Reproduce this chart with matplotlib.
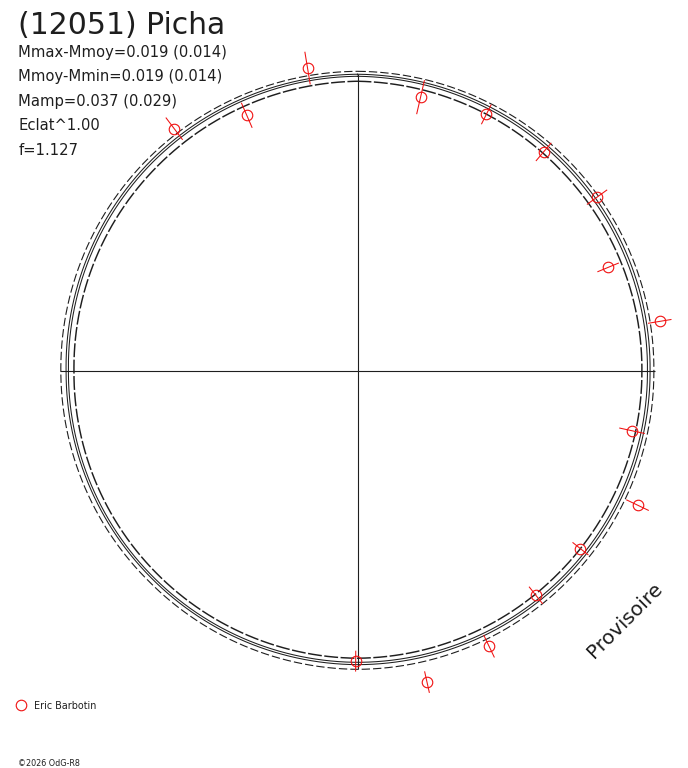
import numpy as np
import matplotlib
matplotlib.use("Agg")
import matplotlib.pyplot as plt
from matplotlib.lines import Line2D

plt.rcParams['font.family'] = ['DejaVu Sans']
plt.rcParams['lines.scale_dashes'] = False

# ---------------- data ----------------
title = "(12051) Picha"
info_lines = ["Mmax-Mmoy=0.019 (0.014)",
              "Mmoy-Mmin=0.019 (0.014)",
              "Mamp=0.037 (0.029)",
              "Eclat^1.00",
              "f=1.127"]
observer = "Eric Barbotin"
credit = "\u00a92026 OdG-R8"
watermark = "Provisoire"

# observations: rotational phase (0..1, clockwise from top), relative flux, error
obs_phase = [0.974, 0.036, 0.074, 0.112, 0.150, 0.1875, 0.224, 0.284,
             0.321, 0.357, 0.393, 0.429, 0.465, 0.501, 0.935, 0.897]
obs_flux = [1.052, 0.963, 0.984, 0.985, 1.014, 0.929, 1.049, 0.962,
            1.063, 0.976, 0.981, 1.044, 1.091, 0.993, 0.955, 1.041]
obs_err = [0.055, 0.058, 0.036, 0.039, 0.041, 0.038, 0.039, 0.043,
           0.041, 0.033, 0.036, 0.041, 0.036, 0.034, 0.045, 0.046]

# fitted curves (relative flux) at phases 0, 1/8, ... 7/8
curve_phase = [0.0, 0.125, 0.25, 0.375, 0.5, 0.625, 0.75, 0.875]
curve_fit_low = [1.010, 1.000, 0.993, 0.995, 0.997, 0.993, 0.990, 1.002]
curve_fit_high = [1.017, 1.009, 1.002, 1.003, 1.005, 1.000, 0.998, 1.010]
curve_env_outer = [1.027, 1.021, 1.015, 1.017, 1.021, 1.014, 1.016, 1.022]
curve_env_inner = [0.993, 0.979, 0.974, 0.976, 0.983, 0.976, 0.971, 0.981]

axis_length = 1.019

# ---------------- figure ----------------
W, H = 688, 768
fig = plt.figure(figsize=(W / 100, H / 100), dpi=100)
fig.patch.set_facecolor('white')

cx, cy = 357.5, 371.2      # centre in pixels (from top-left)
scale = 292.0              # pixels per unit flux
R = 1.2
half = R * scale
ax = fig.add_axes([(cx - half) / W, (H - cy - half) / H, 2 * half / W, 2 * half / H],
                  projection='polar')
ax.set_theta_zero_location('N')
ax.set_theta_direction(-1)
ax.set_ylim(0, R)
ax.set_axis_off()

ink = '#1e1e1e'

# cross
for ang in [0, np.pi / 2, np.pi, 3 * np.pi / 2]:
    ax.plot([ang, ang], [0, axis_length], color=ink, lw=0.8, solid_capstyle='butt')

def closed(vals):
    return np.append(np.asarray(vals, float), vals[0])

theta_c = 2 * np.pi * closed(curve_phase)
theta_c[-1] = 2 * np.pi

styles = [
    (curve_env_outer, dict(lw=0.8, dashes=[6, 2.2])),
    (curve_fit_high, dict(lw=0.75)),
    (curve_fit_low, dict(lw=0.75)),
    (curve_env_inner, dict(lw=1.05, dashes=[10, 1.8])),
]
for vals, kw in styles:
    ln, = ax.plot(theta_c, closed(vals), color=ink, **kw)
    ln.get_path()._interpolation_steps = 60

# observations
red = '#f01010'
th = 2 * np.pi * np.asarray(obs_phase)
fl = np.asarray(obs_flux)
er = np.asarray(obs_err)
for t, f, e in zip(th, fl, er):
    ax.plot([t, t], [f - e, f + e], color=red, lw=0.75, clip_on=False)
ax.plot(th, fl, linestyle='none', marker='o', markersize=7.6,
        markerfacecolor='none', markeredgecolor=red, markeredgewidth=0.8, clip_on=False)

# ---------------- texts ----------------
def ftext(x, y, s, **kw):
    fig.text(x / W, 1 - y / H, s, **kw)

ftext(18.5, 33.5, title, fontsize=21.5, color=ink, va='baseline', ha='left')
for i, s in enumerate(info_lines):
    ftext(18.5, 57 + 24.5 * i, s, fontsize=10.6, color=ink, va='baseline', ha='left')

fig.add_artist(Line2D([21 / W], [1 - 705 / H], transform=fig.transFigure,
                      marker='o', markersize=7.6, markerfacecolor='none',
                      markeredgecolor=red, markeredgewidth=0.8, linestyle='none'))
ftext(34, 709, observer, fontsize=6.9, color=ink, va='baseline', ha='left')
ftext(18, 766, credit, fontsize=5.8, color=ink, va='baseline', ha='left')

ftext(624.5, 620, watermark, fontsize=14.5, color=ink, rotation=45,
      ha='center', va='center', rotation_mode='anchor')

fig.savefig('out.png', dpi=100, facecolor='white')
